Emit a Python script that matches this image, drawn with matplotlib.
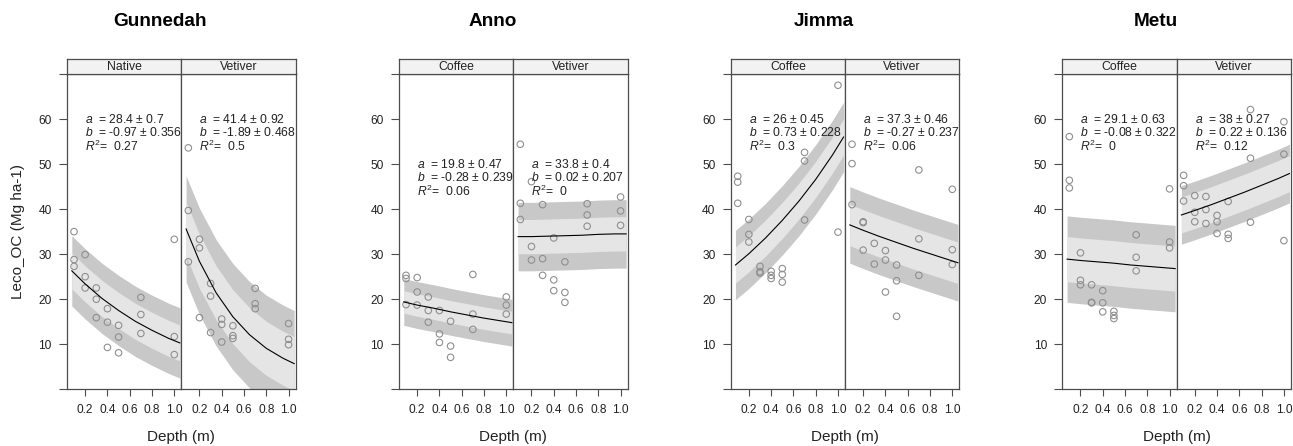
import numpy as np
import matplotlib
matplotlib.use("Agg")
import matplotlib.pyplot as plt

plt.rcParams['font.family'] = ['Liberation Sans', 'DejaVu Sans']
plt.rcParams['mathtext.fontset'] = 'custom'
plt.rcParams['mathtext.rm'] = 'Liberation Sans'
plt.rcParams['mathtext.it'] = 'Liberation Sans:italic'

# ---- data ----
sites = ["Gunnedah", "Anno", "Jimma", "Metu"]
treatments = [["Native", "Vetiver"], ["Coffee", "Vetiver"],
              ["Coffee", "Vetiver"], ["Coffee", "Vetiver"]]

depth_levels = [0.1, 0.2, 0.3, 0.4, 0.5, 0.7, 1.0]

# observed Leco_OC (Mg ha-1), one list per depth level
gunnedah_native_oc = [[35.0, 28.8, 27.3], [29.9, 25.0, 22.5], [22.5, 20.0, 15.9],
                      [17.9, 14.9, 9.3], [14.2, 11.6, 8.1], [20.4, 16.6, 12.4],
                      [33.3, 11.7, 7.7]]
gunnedah_vetiver_oc = [[53.6, 39.7, 28.3], [33.3, 31.4, 15.9], [23.5, 20.7, 12.6],
                       [15.6, 14.4, 10.5], [14.1, 11.9, 11.3], [22.4, 19.0, 17.9],
                       [14.6, 11.1, 9.9]]
anno_coffee_oc = [[25.3, 24.6, 18.8], [24.8, 21.6, 18.7], [20.5, 17.5, 14.9],
                  [17.5, 12.3, 10.4], [15.1, 9.6, 7.1], [25.5, 16.7, 13.3],
                  [20.5, 18.7, 16.7]]
anno_vetiver_oc = [[54.4, 41.3, 37.7], [46.1, 31.7, 28.7], [41.0, 29.0, 25.3],
                   [33.6, 24.3, 21.9], [28.3, 21.5, 19.3], [41.2, 38.7, 36.2],
                   [42.7, 39.6, 36.4]]
jimma_coffee_oc = [[47.3, 46.0, 41.3], [37.7, 34.4, 32.7], [27.3, 26.1, 25.8],
                   [26.2, 25.3, 24.6], [26.8, 25.5, 23.8], [52.6, 50.7, 37.6],
                   [67.5, 34.9]]
jimma_vetiver_oc = [[54.4, 50.1, 41.0], [37.2, 37.0, 30.9], [32.4, 27.8],
                    [30.8, 28.7, 21.6], [27.6, 24.1, 16.2], [48.7, 33.4, 25.3],
                    [44.4, 31.0, 27.7]]
metu_coffee_oc = [[56.1, 46.4, 44.7], [30.3, 24.2, 23.2], [23.2, 19.3, 19.2],
                  [21.9, 19.2, 17.2], [17.3, 16.4, 15.7], [34.3, 29.3, 26.3],
                  [44.5, 32.7, 31.4]]
metu_vetiver_oc = [[47.5, 45.2, 41.8], [43.0, 39.3, 37.2], [42.8, 39.9, 36.8],
                   [38.6, 37.2, 34.6], [41.7, 34.4, 33.5], [62.1, 51.3, 37.1],
                   [59.4, 52.2, 33.0]]

# fitted curve, read at a few depths
fit_depth = [0.08, 0.2, 0.35, 0.5, 0.65, 0.8, 0.95, 1.05]
gunnedah_native_fit = [26.3, 23.4, 20.2, 17.5, 15.1, 13.1, 11.3, 10.3]
gunnedah_vetiver_fit = [35.6, 28.4, 21.4, 16.1, 12.1, 9.1, 6.9, 5.7]
anno_coffee_fit = [19.4, 18.7, 18.0, 17.2, 16.5, 15.8, 15.2, 14.8]
anno_vetiver_fit = [33.9, 33.9, 34.0, 34.1, 34.2, 34.4, 34.5, 34.5]
jimma_coffee_fit = [27.6, 30.1, 33.6, 37.5, 41.8, 46.6, 52.0, 56.0]
jimma_vetiver_fit = [36.5, 35.3, 33.9, 32.6, 31.3, 30.1, 28.9, 28.1]
metu_coffee_fit = [28.9, 28.6, 28.3, 28.0, 27.6, 27.3, 27.0, 26.8]
metu_vetiver_fit = [38.7, 39.7, 41.0, 42.4, 43.8, 45.3, 46.8, 47.9]

# half widths of the outer (prediction) and inner (confidence) bands
outer_half = [[7.8, 11.8], [5.2, 7.6], [7.7, 8.5], [9.6, 6.5]]
inner_half = [[4.0, 6.0], [2.5, 3.8], [4.0, 4.6], [5.0, 4.0]]

a_text = [["28.4 ± 0.7", "41.4 ± 0.92"], ["19.8 ± 0.47", "33.8 ± 0.4"],
          ["26 ± 0.45", "37.3 ± 0.46"], ["29.1 ± 0.63", "38 ± 0.27"]]
b_text = [["-0.97 ± 0.356", "-1.89 ± 0.468"], ["-0.28 ± 0.239", "0.02 ± 0.207"],
          ["0.73 ± 0.228", "-0.27 ± 0.237"], ["-0.08 ± 0.322", "0.22 ± 0.136"]]
r2_text = [["0.27", "0.5"], ["0.06", "0"], ["0.3", "0.06"], ["0", "0.12"]]

obs = [[gunnedah_native_oc, gunnedah_vetiver_oc], [anno_coffee_oc, anno_vetiver_oc],
       [jimma_coffee_oc, jimma_vetiver_oc], [metu_coffee_oc, metu_vetiver_oc]]
fits = [[gunnedah_native_fit, gunnedah_vetiver_fit], [anno_coffee_fit, anno_vetiver_fit],
        [jimma_coffee_fit, jimma_vetiver_fit], [metu_coffee_fit, metu_vetiver_fit]]

# ---- layout (pixels) ----
W, H = 1293, 446
panel_left = [67, 399, 730.7, 1062.3]
sub_w = 114.3
plot_top, plot_bot = 74, 389.3
strip_top = 59
text_top = [60, 50, 60, 60]

frame_col = '#4d4d4d'
outer_col = '#c8c8c8'
inner_col = '#e5e5e5'
pt_col = '#8f8f8f'
txt_col = '#222222'
ann_size = 8.7


def rect(x0, y0, w, h):
    return [x0 / W, 1 - (y0 + h) / H, w / W, h / H]


fig = plt.figure(figsize=(W / 100, H / 100), dpi=100)

for i, site in enumerate(sites):
    for j in range(2):
        x0 = panel_left[i] + j * sub_w
        ax = fig.add_axes(rect(x0, plot_top, sub_w, plot_bot - plot_top))
        fd = np.array(fit_depth)
        fv = np.array(fits[i][j])
        ax.fill_between(fd, fv - outer_half[i][j], fv + outer_half[i][j],
                        color=outer_col, lw=0, zorder=1)
        ax.fill_between(fd, fv - inner_half[i][j], fv + inner_half[i][j],
                        color=inner_col, lw=0, zorder=2)
        xs = [d for d, vals in zip(depth_levels, obs[i][j]) for _ in vals]
        ys = [v for vals in obs[i][j] for v in vals]
        ax.scatter(xs, ys, s=22, facecolors='none', edgecolors=pt_col,
                   linewidths=0.8, zorder=3)
        ax.plot(fd, fv, color='black', lw=0.8, zorder=4)

        ty = text_top[i]
        ax.text(0.2, ty, r'$a$  = ' + a_text[i][j], fontsize=ann_size, color=txt_col,
                va='center', ha='left', clip_on=True, zorder=5)
        ax.text(0.2, ty - 3, r'$b$  = ' + b_text[i][j], fontsize=ann_size, color=txt_col,
                va='center', ha='left', clip_on=True, zorder=5)
        ax.text(0.2, ty - 6, r'$R^2$=  ' + r2_text[i][j], fontsize=ann_size, color=txt_col,
                va='center', ha='left', clip_on=True, zorder=5)

        ax.set_xlim(0.037, 1.063)
        ax.set_ylim(0, 70)
        ax.set_xticks([0.2, 0.4, 0.6, 0.8, 1.0])
        ax.set_xticklabels(['0.2', '0.4', '0.6', '0.8', '1.0'])
        for sp in ax.spines.values():
            sp.set_color(frame_col)
            sp.set_linewidth(0.9)
        ax.tick_params(axis='x', direction='out', length=5, width=0.8, color=frame_col,
                       labelsize=8.6, labelcolor=txt_col, pad=5.5)
        ax.tick_params(axis='y', direction='out', length=6, width=0.8, color=frame_col,
                       labelsize=8.6, labelcolor=txt_col, pad=5)
        if j == 0:
            ax.set_yticks(range(0, 71, 10))
            ax.set_yticklabels(['', '10', '20', '30', '40', '50', '60', ''])
        else:
            ax.set_yticks([])

        sax = fig.add_axes(rect(x0, strip_top, sub_w, plot_top - strip_top))
        sax.set_facecolor('#f2f2f2')
        sax.set_xticks([])
        sax.set_yticks([])
        for sp in sax.spines.values():
            sp.set_color(frame_col)
            sp.set_linewidth(0.9)
        sax.text(0.5, 0.45, treatments[i][j], transform=sax.transAxes,
                 ha='center', va='center', fontsize=8.8, color=txt_col)

    cx = panel_left[i] + sub_w
    fig.text((cx - 21) / W, 1 - 22 / H, site, fontsize=13.7, fontweight='bold',
             ha='center', va='center')
    fig.text(cx / W, 1 - 437.5 / H, 'Depth (m)', fontsize=11,
             ha='center', va='center', color=txt_col)

fig.text(18 / W, 1 - 231.5 / H, 'Leco_OC (Mg ha-1)', fontsize=11, rotation=90,
         ha='center', va='center', color=txt_col)

fig.savefig('out.png', dpi=100)
